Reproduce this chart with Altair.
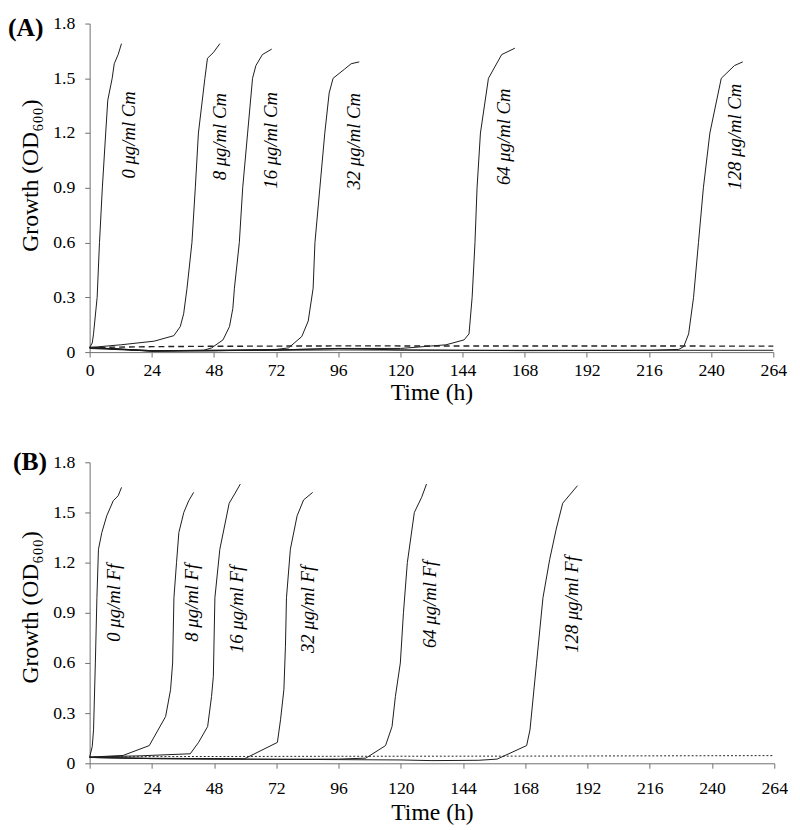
import altair as alt
import pandas as pd

SERIF = "'Liberation Serif', 'Times New Roman', Times, serif"

hour_ticks = list(range(0, 265, 24))
od_ticks = [0, 0.3, 0.6, 0.9, 1.2, 1.5, 1.8]

# ---------------- Panel A (chloramphenicol) ----------------
cm0 = [(0, 0.025), (1, 0.05), (1.5, 0.1), (2.9, 0.3), (3.8, 0.6), (4.9, 0.9), (6.2, 1.2),
       (7, 1.38), (8.7, 1.5), (9.5, 1.58), (11, 1.63), (12.3, 1.69)]
cm8 = [(0, 0.025), (12, 0.04), (24.9, 0.06), (32.5, 0.09), (35, 0.14), (36.3, 0.21), (37.6, 0.35),
       (39.5, 0.6), (40.8, 0.9), (42, 1.2), (44.5, 1.5), (45.5, 1.61), (47.7, 1.64), (50.3, 1.69)]
cm16 = [(0, 0.025), (24, 0.006), (44, 0.01), (47.1, 0.023), (51.5, 0.067), (54, 0.14), (55.3, 0.24),
        (55.9, 0.35), (57.8, 0.6), (59.1, 0.9), (61, 1.2), (62.9, 1.5), (64.2, 1.57), (66.7, 1.63),
        (70.3, 1.66)]
cm32 = [(0, 0.025), (24, 0.005), (48, 0.007), (72, 0.015), (76.8, 0.023), (81.9, 0.085), (84.4, 0.17),
        (86.3, 0.35), (87, 0.6), (88.9, 0.9), (90.8, 1.2), (92.5, 1.42), (94, 1.5), (98.4, 1.55),
        (101, 1.58), (104.1, 1.59)]
cm64 = [(0, 0.025), (24, 0.008), (72, 0.012), (96, 0.02), (120, 0.02), (137.6, 0.04), (144.6, 0.067),
        (146.5, 0.1), (147.7, 0.3), (148.8, 0.6), (149.6, 0.9), (150.9, 1.2), (154, 1.5),
        (159.1, 1.63), (164.2, 1.665)]
cm128 = [(0, 0.025), (24, 0.008), (72, 0.012), (96, 0.02), (120, 0.012), (168, 0.008), (216, 0.01),
         (227.5, 0.015), (229.4, 0.03), (231.3, 0.1), (233.2, 0.3), (235.1, 0.6), (237, 0.9),
         (239.5, 1.2), (243.9, 1.5), (249, 1.57), (252.2, 1.59)]
cm_ctrl = [(0, 0.02), (24, 0.006), (96, 0.012), (144, 0.01), (264, 0.01)]
cm_dashed = [(0, 0.025), (24, 0.03), (48, 0.032), (96, 0.034), (264, 0.033)]

cm_labels = ["0 μg/ml Cm", "8 μg/ml Cm", "16 μg/ml Cm", "32 μg/ml Cm", "64 μg/ml Cm", "128 μg/ml Cm"]
cm_label_t = [15.2, 50.5, 69.9, 102.2, 159.9, 249.1]
cm_label_od = [1.19, 1.18, 1.16, 1.155, 1.18, 1.18]

# ---------------- Panel B (florfenicol) ----------------
ff0 = [(0, 0.037), (1.0, 0.1), (1.5, 0.2), (2.2, 0.6), (2.8, 0.99), (3.4, 1.28), (4.7, 1.38),
       (6.6, 1.48), (9.1, 1.57), (11, 1.6), (12.3, 1.65)]
ff8 = [(0, 0.037), (12.9, 0.047), (23, 0.106), (29.3, 0.28), (31.2, 0.44), (32.0, 0.6), (32.5, 0.99),
       (33.5, 1.2), (34.4, 1.38), (36.3, 1.5), (38.2, 1.57), (40.1, 1.62)]
ff16 = [(0, 0.037), (20, 0.045), (38.8, 0.057), (42, 0.125), (45.5, 0.22), (47, 0.4), (47.7, 0.52),
        (48.3, 0.99), (50.2, 1.28), (53.8, 1.555), (55.9, 1.61), (58.1, 1.67)]
ff32 = [(0, 0.035), (24, 0.03), (48, 0.028), (59.7, 0.027), (72.4, 0.125), (73.6, 0.26), (74.9, 0.44),
        (75.5, 0.7), (75.9, 0.99), (77.4, 1.28), (80, 1.48), (82.5, 1.575), (86, 1.62)]
ff64 = [(0, 0.035), (24, 0.028), (48, 0.025), (72, 0.024), (96, 0.025), (106.5, 0.031), (114.1, 0.106),
        (116.6, 0.22), (117.9, 0.4), (119.8, 0.6), (121, 0.9), (122.5, 1.2), (125.2, 1.5),
        (128, 1.59), (129.9, 1.67)]
ff128 = [(0, 0.035), (24, 0.028), (72, 0.024), (96, 0.022), (120, 0.02), (132, 0.016), (150, 0.018),
         (157.1, 0.025), (168.5, 0.106), (169.8, 0.2), (172.3, 0.595), (174.8, 0.99), (177.4, 1.22),
         (179.9, 1.4), (182.4, 1.555), (188.1, 1.66)]
ff_dashed = [(0, 0.037), (24, 0.04), (96, 0.042), (168, 0.043), (264, 0.046)]

ff_labels = ["0 μg/ml Ff", "8 μg/ml Ff", "16 μg/ml Ff", "32 μg/ml Ff", "64 μg/ml Ff", "128 μg/ml Ff"]
ff_label_t = [9.5, 39.5, 56.9, 84.3, 131.3, 186.0]
ff_label_od = [0.96, 0.96, 0.92, 0.92, 0.95, 0.95]


def curves_frame(series):
    rows = []
    for name, pts in series.items():
        for t, v in pts:
            rows.append({"series": name, "t": t, "od": v})
    return pd.DataFrame(rows)


def panel(series, dashed, dash_style, dash_width, labels, lab_t, lab_od, tag, tag_x, tag_y,
          w, h, x_label_pad, x_title_pad, y_title_y):
    x_enc = alt.X("t:Q", scale=alt.Scale(domain=[0, 264], nice=False, zero=False),
                  axis=alt.Axis(values=hour_ticks, title="Time (h)", labelPadding=x_label_pad,
                                titlePadding=x_title_pad, labelFlush=False, labelOverlap=False,
                                format="d"))
    y_enc = alt.Y("od:Q", scale=alt.Scale(domain=[0, 1.8], nice=False),
                  axis=alt.Axis(values=od_ticks, title="Growth (OD₆₀₀)",
                                labelExpr="datum.value == 0 ? '0' : format(datum.value, '.1f')",
                                labelPadding=10, titlePadding=10, titleY=y_title_y,
                                labelFlush=False, labelOverlap=False))
    lines = alt.Chart(curves_frame(series)).mark_line(
        color="#1a1a1a", strokeWidth=1
    ).encode(x=x_enc, y=y_enc, detail="series:N")
    dash = alt.Chart(curves_frame({"dashed": dashed})).mark_line(
        color="#222222", strokeWidth=dash_width, strokeDash=dash_style
    ).encode(x=x_enc, y=y_enc)
    lab_df = pd.DataFrame({"label": labels, "t": lab_t, "od": lab_od})
    text = alt.Chart(lab_df).mark_text(
        angle=270, font=SERIF, fontSize=19, fontStyle="italic", color="#000000",
        align="center", baseline="middle"
    ).encode(x=x_enc, y=y_enc, text="label:N")
    tag_chart = alt.Chart(pd.DataFrame({"tag": [tag]})).mark_text(
        font=SERIF, fontSize=26, fontWeight="bold", color="#000000",
        align="left", baseline="middle"
    ).encode(x=alt.value(tag_x), y=alt.value(tag_y), text="tag:N")
    return alt.layer(lines, dash, text, tag_chart).properties(width=w, height=h)


panel_a = panel(
    {"0": cm0, "8": cm8, "16": cm16, "32": cm32, "64": cm64, "128": cm128, "ctrl": cm_ctrl},
    cm_dashed, [6, 4], 1.4, cm_labels, cm_label_t, cm_label_od, "(A)", -83, 5,
    695, 334, 5, 1, 154,
)
panel_b = panel(
    {"0": ff0, "8": ff8, "16": ff16, "32": ff32, "64": ff64, "128": ff128},
    ff_dashed, [2, 2], 1.0, ff_labels, ff_label_t, ff_label_od, "(B)", -78, 0,
    696, 306, 12, 3, 147,
)

chart = alt.concat(panel_a, panel_b, columns=1, align="none", spacing=46).properties(
    padding={"left": 0, "top": 0, "right": 4, "bottom": 0}
).configure_view(stroke=None).configure_axis(
    grid=False,
    labelFont=SERIF, titleFont=SERIF,
    labelFontSize=18, titleFontSize=24, titleFontWeight="normal",
    labelColor="#000000", titleColor="#000000",
    domainColor="#6e6e6e", tickColor="#6e6e6e", domainWidth=1, tickWidth=1, tickSize=5,
)

chart.save("out.html", embed_options={"renderer": "svg", "actions": False})
